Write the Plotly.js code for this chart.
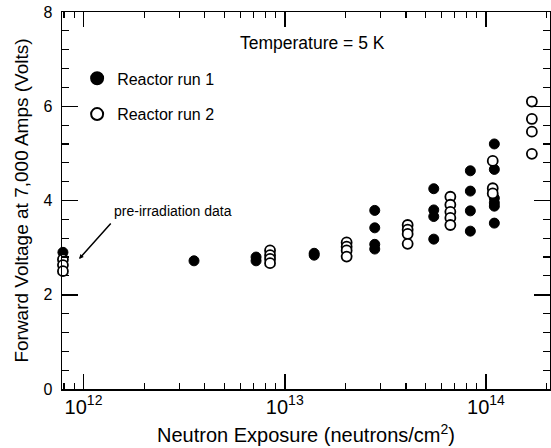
<!DOCTYPE html>
<html>
<head>
<meta charset="utf-8">
<script src="https://cdn.plot.ly/plotly-3.0.1.min.js"></script>
<style>html,body{margin:0;padding:0;background:#fff;}#chart{width:551px;height:448px;}</style>
</head>
<body>
<div id="chart"></div>
<script>
// Reactor run 1 (filled circles)
const run1Exposure = [7.9e11, 3.54e12, 7.2e12, 7.2e12, 1.40e13, 1.40e13,
  2.8e13, 2.8e13, 2.8e13, 2.8e13,
  5.5e13, 5.5e13, 5.5e13, 5.5e13,
  8.36e13, 8.36e13, 8.36e13, 8.36e13,
  1.1e14, 1.1e14, 1.1e14, 1.1e14, 1.1e14, 1.1e14];
const run1Voltage = [2.90, 2.72, 2.80, 2.72, 2.88, 2.84,
  3.79, 3.42, 3.07, 2.97,
  4.25, 3.80, 3.66, 3.18,
  4.63, 4.20, 3.78, 3.35,
  5.20, 4.66, 4.05, 3.95, 3.88, 3.52];

// Reactor run 2 (open circles)
const run2Exposure = [7.9e11, 7.9e11, 7.9e11,
  8.45e12, 8.45e12, 8.45e12, 8.45e12,
  2.03e13, 2.03e13, 2.03e13, 2.03e13,
  4.08e13, 4.08e13, 4.08e13, 4.08e13,
  6.65e13, 6.65e13, 6.65e13, 6.65e13, 6.65e13,
  1.08e14, 1.08e14, 1.08e14,
  1.69e14, 1.69e14, 1.69e14, 1.69e14];
const run2Voltage = [2.75, 2.63, 2.50,
  2.94, 2.84, 2.76, 2.67,
  3.11, 3.02, 2.94, 2.81,
  3.48, 3.38, 3.29, 3.08,
  4.08, 3.91, 3.76, 3.63, 3.48,
  4.84, 4.26, 4.15,
  6.10, 5.73, 5.46, 4.99];

const seriesNames = ['Reactor run 1', 'Reactor run 2'];
const xTitle = 'Neutron Exposure (neutrons/cm<sup>2</sup>)';
const yTitle = 'Forward Voltage at 7,000 Amps (Volts)';
const tempLabel = 'Temperature = 5 K';
const preLabel = 'pre-irradiation data';

const FONT = 'Liberation Sans, Arial, Helvetica, sans-serif';

const traces = [
  {
    x: run1Exposure, y: run1Voltage, type: 'scatter', mode: 'markers',
    name: seriesNames[0], legendgroup: 'a', cliponaxis: false,
    marker: {symbol: 'circle', size: 10, color: '#000', line: {color: '#000', width: 1}}
  },
  {
    x: run2Exposure, y: run2Voltage, type: 'scatter', mode: 'markers',
    name: seriesNames[1], legendgroup: 'b', cliponaxis: false,
    marker: {symbol: 'circle', size: 10, color: '#fff', line: {color: '#000', width: 1.8}}
  }
];

const layout = {
  width: 551, height: 448,
  margin: {l: 62, r: 1, t: 12, b: 59},
  paper_bgcolor: '#fff', plot_bgcolor: '#fff',
  font: {family: FONT, color: '#000', size: 16},
  showlegend: true,
  legend: {
    x: 0.031, y: 0.869, xanchor: 'left', yanchor: 'top',
    bgcolor: 'rgba(0,0,0,0)', borderwidth: 0,
    font: {family: FONT, size: 16, color: '#000'},
    traceorder: 'grouped', tracegroupgap: 12, itemsizing: 'constant'
  },
  xaxis: {
    type: 'log', range: [11.893, 14.318],
    showgrid: false, zeroline: false,
    showline: true, linecolor: '#000', linewidth: 1.5, mirror: 'allticks',
    ticks: 'inside', ticklen: 15, tickwidth: 1.5, tickcolor: '#000',
    dtick: 1, exponentformat: 'power',
    tickfont: {family: FONT, size: 16, color: '#000'},
    minor: {ticks: 'inside', ticklen: 6, tickwidth: 1.2, tickcolor: '#000', dtick: 'D1', showgrid: false},
    title: {text: xTitle, font: {family: FONT, size: 20, color: '#000'}, standoff: 11}
  },
  yaxis: {
    range: [0, 8], showgrid: false, zeroline: false,
    showline: true, linecolor: '#000', linewidth: 1.5, mirror: 'allticks',
    ticks: 'inside', ticklen: 16, tickwidth: 1.5, tickcolor: '#000',
    dtick: 2, tick0: 0, ticklabelstandoff: 5,
    tickfont: {family: FONT, size: 16, color: '#000'},
    minor: {ticks: 'inside', ticklen: 7, tickwidth: 1.2, tickcolor: '#000', dtick: 0.4, tick0: 0, showgrid: false},
    title: {text: yTitle, font: {family: FONT, size: 19, color: '#000'}, standoff: 9}
  },
  annotations: [
    {xref: 'paper', yref: 'paper', x: 0.514, y: 0.918, xanchor: 'center', yanchor: 'middle',
     text: tempLabel, showarrow: false, font: {family: FONT, size: 17.5, color: '#000'}},
    {xref: 'paper', yref: 'paper', x: 0.227, y: 0.472, xanchor: 'center', yanchor: 'middle',
     text: preLabel, showarrow: false, font: {family: FONT, size: 14, color: '#000'}},
    {xref: 'paper', yref: 'paper', x: 0.035, y: 0.345, axref: 'pixel', ayref: 'pixel',
     ax: 33, ay: -37, text: '', showarrow: true, arrowhead: 2, arrowsize: 0.6, arrowwidth: 1.5, arrowcolor: '#000'}
  ]
};

Plotly.newPlot('chart', traces, layout, {displayModeBar: false, staticPlot: true});
</script>
</body>
</html>
